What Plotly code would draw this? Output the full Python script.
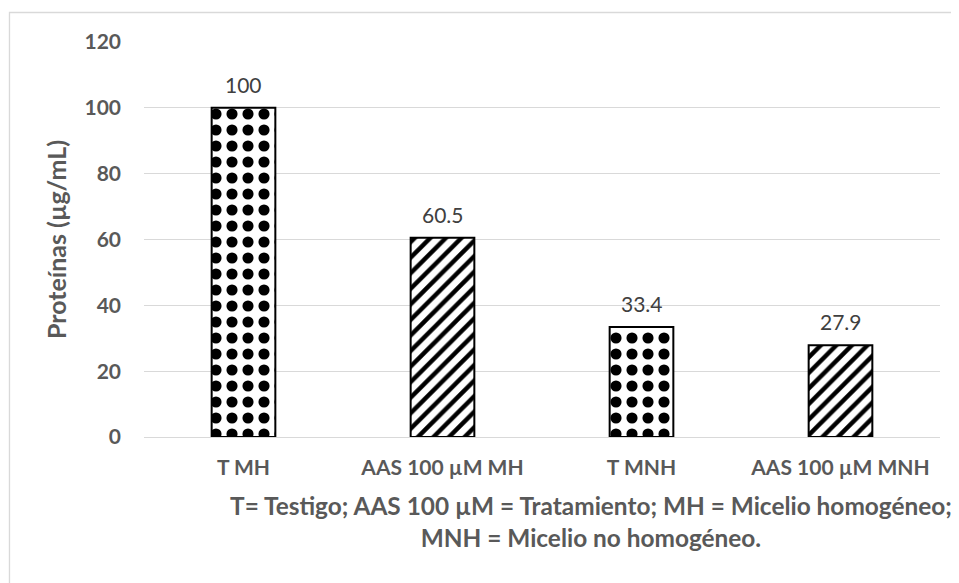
import plotly.graph_objects as go

categories = ["T MH", "AAS 100 µM MH", "T MNH", "AAS 100 µM MNH"]
values = [100, 60.5, 33.4, 27.9]
value_labels = ["100", "60.5", "33.4", "27.9"]
patterns = [".", "/", ".", "/"]
y_ticks = [0, 20, 40, 60, 80, 100, 120]

FONT = "Lato"
GREY = "#595959"

fig = go.Figure()
fig.add_trace(go.Bar(
    x=categories,
    y=values,
    width=0.32,
    marker=dict(
        color="white",
        line=dict(color="black", width=2),
        pattern=dict(
            shape=patterns,
            fgcolor="black",
            bgcolor="white",
            fgopacity=1,
            size=[16, 11, 16, 11],
            solidity=[0.38, 0.4, 0.38, 0.4],
            fillmode="replace",
        ),
    ),
    showlegend=False,
    hoverinfo="skip",
))

for c, v, t in zip(categories, values, value_labels):
    fig.add_annotation(x=c, y=v, text=t, showarrow=False, yanchor="bottom",
                       yshift=9, font=dict(family=FONT, size=21, color="#404040"))

fig.add_annotation(
    xref="paper", yref="paper", x=0.561, y=-0.214, yanchor="middle", xanchor="center",
    text="T= Testigo; AAS 100 µM = Tratamiento; MH = Micelio homogéneo;<br>MNH = Micelio no homogéneo.",
    showarrow=False, align="center",
    font=dict(family=FONT, size=24.4, color=GREY, weight="bold"),
)

fig.add_shape(type="rect", xref="paper", yref="paper",
              x0=-0.169, x1=1.022, y0=-0.42, y1=1.0747,
              line=dict(color="#d9d9d9", width=1.3), fillcolor="rgba(0,0,0,0)", layer="below")

fig.update_layout(
    width=951, height=575,
    margin=dict(l=136, r=19, t=34, b=146),
    paper_bgcolor="white", plot_bgcolor="white",
    font=dict(family=FONT, color=GREY),
)
fig.update_yaxes(
    range=[0, 120], tickvals=y_ticks,
    showgrid=True, gridcolor="#d9d9d9", gridwidth=1,
    zeroline=True, zerolinecolor="#d9d9d9", zerolinewidth=1,
    tickfont=dict(family=FONT, size=21, color=GREY, weight="bold"),
    ticklabelstandoff=22,
    title=dict(text="Proteínas (µg/mL)", standoff=10,
               font=dict(family=FONT, size=25, color=GREY, weight="bold")),
)
fig.update_xaxes(
    showgrid=False, showline=False,
    tickfont=dict(family=FONT, size=21, color=GREY, weight="bold"),
    ticklabelstandoff=16,
)

fig.write_html("out.html")
